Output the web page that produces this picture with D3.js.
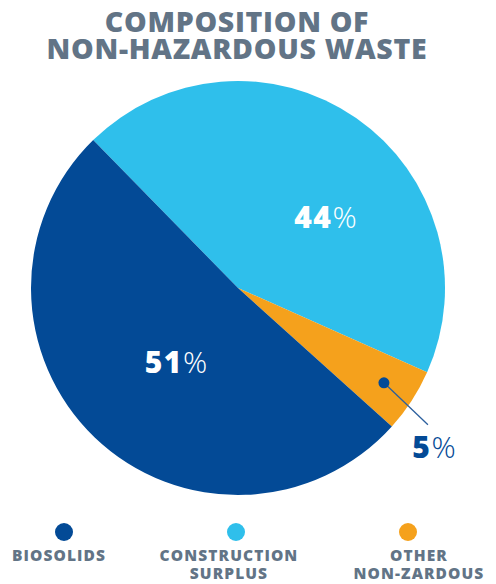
<!DOCTYPE html>
<html><head><meta charset="utf-8">
<script src="https://cdn.jsdelivr.net/npm/d3@7"></script>
<style>
html,body{margin:0;padding:0;background:#fff;}
svg{display:block;}
text{font-family:"Open Sans","DejaVu Sans",sans-serif;}
</style></head>
<body><svg id="c" width="496" height="584"></svg>
<script>
const titleLines = ["COMPOSITION OF", "NON-HAZARDOUS WASTE"];
const categories = ["Construction Surplus", "Other Non-Zardous", "Biosolids"];
const values = [44, 5, 51];
const colors = ["#2fbfeb", "#f5a11c", "#034a96"];
const legendOrder = ["Biosolids", "Construction Surplus", "Other Non-Zardous"];
const legendLabels = [["BIOSOLIDS"], ["CONSTRUCTION", "SURPLUS"], ["OTHER", "NON-ZARDOUS"]];

const svg = d3.select("#c");
const cx = 238, cy = 288, R = 207;
const startDeg = -44.4;

// Title
titleLines.forEach((t, i) => svg.append("text").attr("text-anchor", "middle")
  .attr("fill", "#627486").attr("font-weight", 800).attr("font-size", 28.5)
  .attr("letter-spacing", 0.7)
  .attr("x", 237).attr("y", 32 + i * 26.5).text(t));

const data = categories.map((c, i) => ({cat: c, value: values[i], color: colors[i]}));
const pie = d3.pie().value(d => d.value).sort(null)
  .startAngle(startDeg * Math.PI / 180).endAngle((startDeg + 360) * Math.PI / 180);
const arcs = pie(data);
const arc = d3.arc().innerRadius(0).outerRadius(R);

const g = svg.append("g").attr("transform", `translate(${cx},${cy})`);
g.selectAll("path").data(arcs).join("path").attr("d", arc).attr("fill", d => d.data.color);

function polar(r, a) { return [r * Math.sin(a), -r * Math.cos(a)]; }
const mid = d => (d.startAngle + d.endAngle) / 2;

function pctLabel(x, y, v, numColor, pctColor, size) {
  const t = g.append("text").attr("x", x).attr("y", y).attr("text-anchor", "middle")
    .attr("font-size", size);
  t.append("tspan").attr("font-weight", 800).attr("fill", numColor).attr("letter-spacing", 1.5).text(v);
  t.append("tspan").attr("font-weight", 300).attr("fill", pctColor).text("%");
}

// 44%
{
  const d = arcs[0];
  const a = mid(d) + 16.5 * Math.PI / 180;
  const [x, y] = polar(112, a);
  pctLabel(x, y + 10, d.data.value, "#ffffff", "#ffffff", 30);
}
// 51%
{
  const d = arcs[2];
  const a = mid(d) - 4 * Math.PI / 180;
  const [x, y] = polar(97, a);
  pctLabel(x, y + 10, d.data.value, "#ffffff", "#ffffff", 30);
}
// 5% with leader
{
  const d = arcs[1];
  const [x1, y1] = polar(174, mid(d));
  g.append("line").attr("x1", x1).attr("y1", y1).attr("x2", x1 + 44).attr("y2", y1 + 42)
    .attr("stroke", "#2b5f9e").attr("stroke-width", 1.3);
  g.append("circle").attr("cx", x1).attr("cy", y1).attr("r", 5.5).attr("fill", "#034a96");
  pctLabel(196, y1 + 75, d.data.value, "#034a96", "#034a96", 30);
}

// Legend
const lx = d3.scalePoint().domain(legendOrder).range([64, 408]);
const textX = [59, 229, 419];
const lg = svg.append("g");
legendOrder.forEach((name, i) => {
  const idx = categories.indexOf(name);
  lg.append("circle").attr("cx", lx(name)).attr("cy", 532).attr("r", 9).attr("fill", colors[idx]);
  legendLabels[i].forEach((s, j) => lg.append("text").attr("text-anchor", "middle").attr("fill", "#627486")
    .attr("font-weight", 800).attr("font-size", 15.5).attr("letter-spacing", 1.1)
    .attr("x", textX[i]).attr("y", 561 + j * 18).text(s));
});
</script></body></html>
